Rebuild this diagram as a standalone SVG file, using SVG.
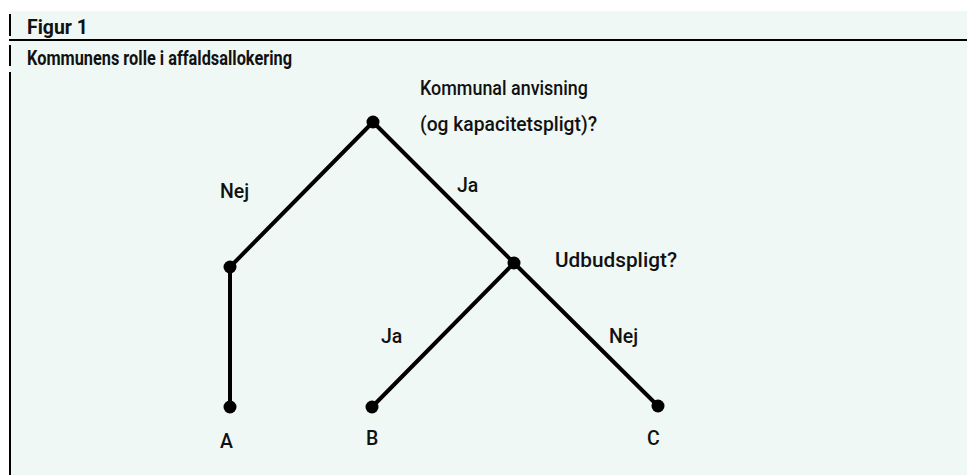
<svg xmlns="http://www.w3.org/2000/svg" width="967" height="475" viewBox="0 0 967 475">
<style>
.bg{fill:#f0f8f5}
.rule{stroke:#000;stroke-width:2;fill:none}
.hd{font-family:Roboto,"Open Sans",sans-serif;font-weight:700;font-size:19.5px;fill:#111}
.lb{font-family:Roboto,"Open Sans",sans-serif;font-weight:500;font-size:19.5px;fill:#111}
.edge{stroke:#000;stroke-width:4;fill:none;stroke-linecap:round}
.dot{fill:#000}
</style>
<rect x="0" y="0" width="967" height="475" fill="#fff"/>
<rect class="bg" x="9" y="11" width="958" height="464"/>
<line class="rule" x1="9" y1="40" x2="967" y2="40"/>
<line class="rule" x1="10" y1="14" x2="10" y2="36"/>
<line class="rule" x1="10" y1="45" x2="10" y2="66"/>
<line class="rule" x1="10" y1="72" x2="10" y2="475"/>
<text class="hd" x="27" y="34" textLength="61" lengthAdjust="spacingAndGlyphs">Figur 1</text>
<text class="hd" x="27" y="65" textLength="265" lengthAdjust="spacingAndGlyphs">Kommunens rolle i affaldsallokering</text>
<g id="connectors">
<line class="edge" x1="373" y1="122" x2="230" y2="267"/>
<line class="edge" x1="373" y1="122" x2="514" y2="263"/>
<line class="edge" x1="230" y1="267" x2="230" y2="407"/>
<line class="edge" x1="514" y1="263" x2="372" y2="407"/>
<line class="edge" x1="514" y1="263" x2="658" y2="406"/>
<text class="lb" x="220" y="198">Nej</text>
<text class="lb" x="457" y="192">Ja</text>
<text class="lb" x="381" y="343">Ja</text>
<text class="lb" x="609" y="343">Nej</text>
</g>
<g id="root">
<circle class="dot" cx="373" cy="122" r="6.5"/>
<text class="lb" x="420" y="95" textLength="168" lengthAdjust="spacingAndGlyphs">Kommunal anvisning</text>
<text class="lb" x="420" y="131" textLength="177" lengthAdjust="spacingAndGlyphs">(og kapacitetspligt)?</text>
</g>
<g id="left">
<circle class="dot" cx="230" cy="267" r="6.5"/>
</g>
<g id="udbud">
<circle class="dot" cx="514" cy="263" r="6.5"/>
<text class="lb" x="555" y="267" textLength="122" lengthAdjust="spacingAndGlyphs">Udbudspligt?</text>
</g>
<g id="A">
<circle class="dot" cx="230" cy="407" r="6.5"/>
<text class="lb" x="220" y="448">A</text>
</g>
<g id="B">
<circle class="dot" cx="372" cy="407" r="6.5"/>
<text class="lb" x="366" y="445">B</text>
</g>
<g id="C">
<circle class="dot" cx="658" cy="406" r="6.5"/>
<text class="lb" x="647" y="445">C</text>
</g>
</svg>
